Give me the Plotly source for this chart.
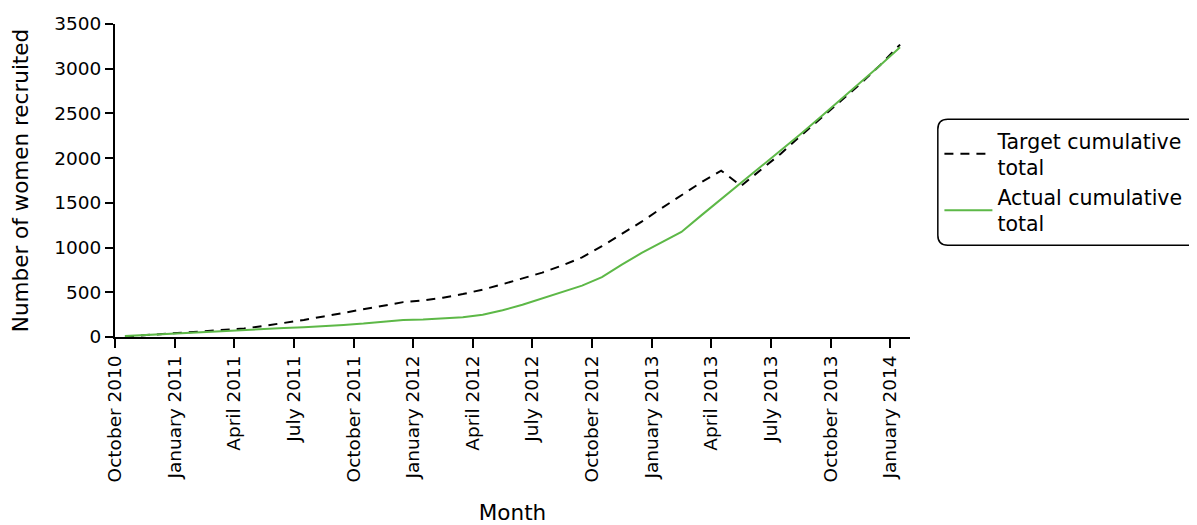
import plotly.graph_objects as go

months = [
    "Oct 2010", "Nov 2010", "Dec 2010", "Jan 2011", "Feb 2011", "Mar 2011", "Apr 2011", "May 2011",
    "Jun 2011", "Jul 2011", "Aug 2011", "Sep 2011", "Oct 2011", "Nov 2011", "Dec 2011", "Jan 2012",
    "Feb 2012", "Mar 2012", "Apr 2012", "May 2012", "Jun 2012", "Jul 2012", "Aug 2012", "Sep 2012",
    "Oct 2012", "Nov 2012", "Dec 2012", "Jan 2013", "Feb 2013", "Mar 2013", "Apr 2013", "May 2013",
    "Jun 2013", "Jul 2013", "Aug 2013", "Sep 2013", "Oct 2013", "Nov 2013", "Dec 2013", "Jan 2014",
]

target = [
    5, 20, 35, 45, 60, 75, 95, 125, 155, 190, 230, 272, 310, 350, 390, 410,
    440, 480, 530, 590, 655, 720, 800, 890, 1015, 1150, 1290, 1440, 1590, 1730, 1860, 1690,
    1870, 2050, 2250, 2440, 2630, 2830, 3040, 3270,
]

actual = [
    10, 22, 35, 45, 55, 65, 80, 90, 100, 110, 120, 135, 150, 170, 190, 195,
    205, 220, 250, 300, 360, 430, 505, 575, 670, 810, 940, 1060, 1175, 1360, 1540, 1720,
    1900, 2080, 2270, 2460, 2650, 2840, 3040, 3240,
]

tick_labels = [
    "October 2010", "January 2011", "April 2011", "July 2011", "October 2011",
    "January 2012", "April 2012", "July 2012", "October 2012", "January 2013",
    "April 2013", "July 2013", "October 2013", "January 2014",
]

# months plotted at mid-month positions; ticks at month starts every quarter
xpos = [i + 0.5 for i in range(len(months))]
tickvals = [3 * k for k in range(len(tick_labels))]

FONT = "DejaVu Sans"
TICK = 18.5
TITLE = 21.5
LEG = 20.5
fig = go.Figure()
fig.add_trace(go.Scatter(
    x=xpos, y=target, mode="lines", name="Target cumulative<br>total",
    line=dict(color="black", width=2, dash="9px,7px"),
))
fig.add_trace(go.Scatter(
    x=xpos, y=actual, mode="lines", name="Actual cumulative<br>total",
    line=dict(color="#5DB847", width=2),
))

# rounded legend frame
x0, x1, y0, y1 = 1.035, 1.40, 0.293, 0.696
rx, ry = 0.0126, 0.032
path = (f"M {x0+rx},{y1} L {x1},{y1} L {x1},{y0} L {x0+rx},{y0} "
        f"Q {x0},{y0} {x0},{y0+ry} L {x0},{y1-ry} Q {x0},{y1} {x0+rx},{y1} Z")
fig.add_shape(type="path", path=path, xref="paper", yref="paper",
              line=dict(color="black", width=1.5), fillcolor="rgba(0,0,0,0)")

fig.update_layout(
    width=1189, height=517,
    margin=dict(l=107, r=287, t=16, b=188, autoexpand=False),
    paper_bgcolor="white", plot_bgcolor="white",
    font=dict(family=FONT, size=TICK, color="black"),
    showlegend=True,
    legend=dict(x=1.037, y=0.4945, xanchor="left", yanchor="middle",
                bgcolor="rgba(0,0,0,0)", borderwidth=0,
                font=dict(family=FONT, size=LEG), tracegroupgap=2,
                itemwidth=48),
    xaxis=dict(
        range=[0, 40], tickmode="array", tickvals=tickvals, ticktext=tick_labels,
        tickangle=-90, ticks="outside", ticklen=9, tickwidth=2, tickcolor="black",
        showline=True, linecolor="black", linewidth=2, showgrid=False, zeroline=False,
        automargin=False,
        title=dict(text="Month", font=dict(family=FONT, size=TITLE), standoff=28),
        tickfont=dict(family=FONT, size=TICK),
    ),
    yaxis=dict(
        range=[0, 3500], tickmode="array", tickvals=list(range(0, 3501, 500)),
        ticks="outside", ticklen=8, tickwidth=2, tickcolor="black",
        showline=True, linecolor="black", linewidth=2, showgrid=False, zeroline=False,
        automargin=False,
        title=dict(text="Number of women recruited", font=dict(family=FONT, size=TITLE), standoff=20),
        tickfont=dict(family=FONT, size=TICK),
    ),
)

fig.write_html("out.html")
